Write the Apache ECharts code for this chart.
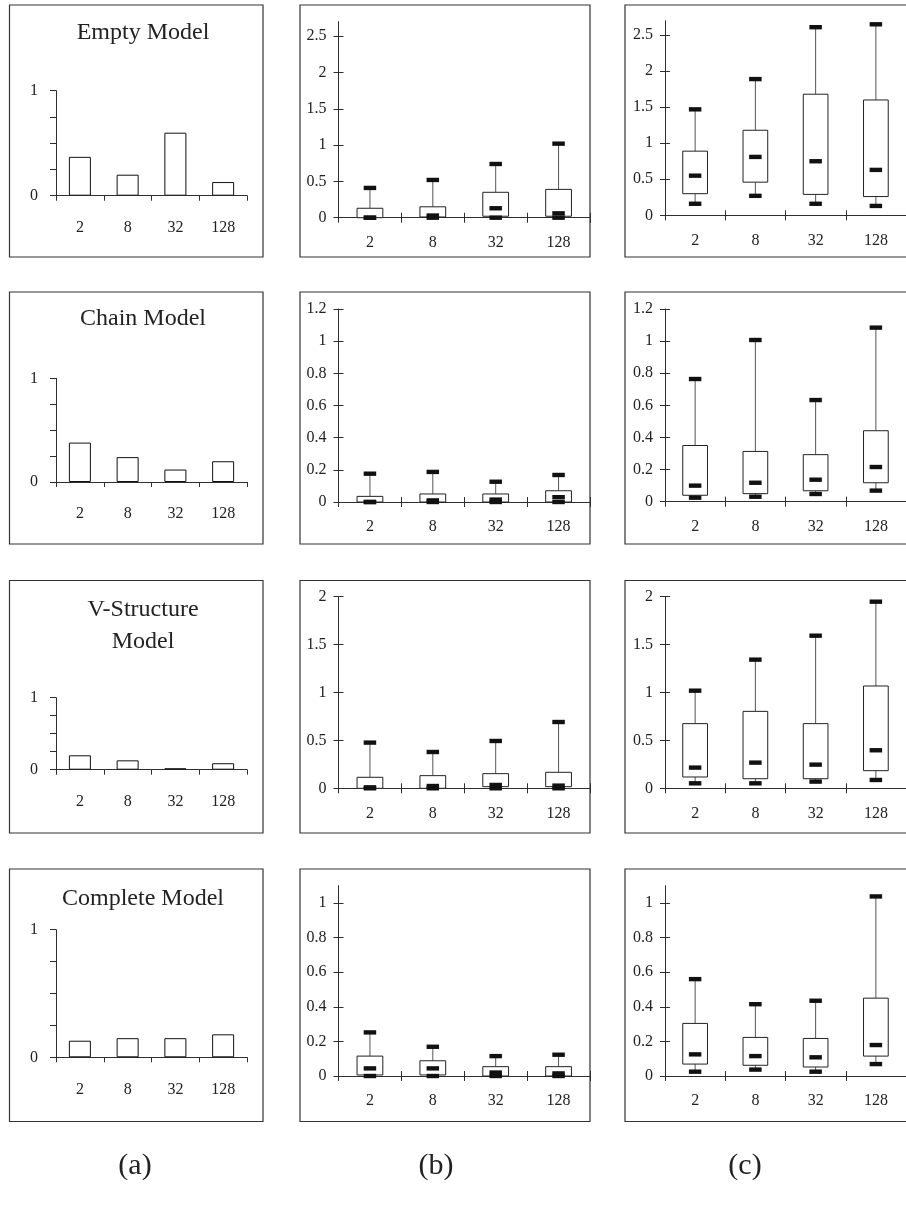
<!DOCTYPE html>
<html><head><meta charset="utf-8">
<script src="https://cdn.jsdelivr.net/npm/echarts@6/dist/echarts.min.js"></script>
<style>html,body{margin:0;padding:0;background:#fff}#c{width:906px;height:1215px}</style>
</head><body><div id="c"></div>
<script>
// ---------- data ----------
const categories = ['2', '8', '32', '128'];
const modelTitles = [['Empty Model'], ['Chain Model'], ['V-Structure', 'Model'], ['Complete Model']];
const panelLabels = ['(a)', '(b)', '(c)'];

// column (a): bar values
const barEmpty = [0.37, 0.20, 0.60, 0.13];
const barChain = [0.38, 0.24, 0.12, 0.20];
const barVStructure = [0.20, 0.13, 0.02, 0.09];
const barComplete = [0.13, 0.15, 0.15, 0.18];

// columns (b),(c): [min, q1, median, q3, max] per category
const emptyB = [[0, 0, 0, 0.13, 0.41], [0, 0.01, 0.03, 0.15, 0.52], [0, 0.02, 0.13, 0.35, 0.74], [0, 0.02, 0.06, 0.39, 1.02]];
const emptyC = [[0.16, 0.30, 0.55, 0.89, 1.47], [0.27, 0.46, 0.81, 1.18, 1.89], [0.16, 0.29, 0.75, 1.68, 2.61], [0.13, 0.26, 0.63, 1.60, 2.65]];
const chainB = [[0, 0, 0, 0.035, 0.176], [0, 0, 0.01, 0.05, 0.187], [0, 0, 0.015, 0.05, 0.126], [0, 0, 0.03, 0.07, 0.168]];
const chainC = [[0.025, 0.04, 0.10, 0.35, 0.764], [0.031, 0.05, 0.118, 0.313, 1.007], [0.048, 0.068, 0.137, 0.293, 0.633], [0.069, 0.118, 0.216, 0.442, 1.084]];
const vStructB = [[0, 0, 0.01, 0.115, 0.477], [0, 0, 0.024, 0.132, 0.379], [0, 0.017, 0.035, 0.153, 0.494], [0, 0.017, 0.028, 0.167, 0.692]];
const vStructC = [[0.052, 0.118, 0.216, 0.675, 1.019], [0.052, 0.10, 0.268, 0.803, 1.343], [0.07, 0.10, 0.247, 0.675, 1.593], [0.087, 0.184, 0.397, 1.068, 1.948]];
const completeB = [[0, 0.006, 0.044, 0.115, 0.252], [0, 0.006, 0.044, 0.088, 0.169], [0, 0, 0.02, 0.054, 0.115], [0, 0, 0.015, 0.054, 0.123]];
const completeC = [[0.025, 0.069, 0.125, 0.304, 0.56], [0.037, 0.062, 0.115, 0.223, 0.415], [0.025, 0.052, 0.108, 0.217, 0.435], [0.069, 0.115, 0.179, 0.45, 1.038]];

// axis ranges / tick labels
const yTicksA = [0, 0.25, 0.5, 0.75, 1];
const yMaxBC = [2.7, 1.2, 2, 1.1];
const yTicksRow1 = [0, 0.5, 1, 1.5, 2, 2.5];
const yTicksRow2 = [0, 0.2, 0.4, 0.6, 0.8, 1, 1.2];
const yTicksRow3 = [0, 0.5, 1, 1.5, 2];
const yTicksRow4 = [0, 0.2, 0.4, 0.6, 0.8, 1];

// ---------- layout ----------
const bars = [barEmpty, barChain, barVStructure, barComplete];
const boxesB = [emptyB, chainB, vStructB, completeB];
const boxesC = [emptyC, chainC, vStructC, completeC];
const yTicksBC = [yTicksRow1, yTicksRow2, yTicksRow3, yTicksRow4];

const FONT = '"Liberation Serif", "Times New Roman", serif';
const AX = '#2e2e2e';
const TXT = '#222';

const panelRows = [[5, 257], [292, 544], [580.5, 833], [869, 1121.5]];
const panelCols = [[9.5, 263], [300, 590], [625, 914]];
const gridA = [[90.7, 195.7], [378.3, 482], [697.7, 769.7], [929.7, 1057.3]];
const gridB = [[21.7, 217.7], [309, 502], [596.7, 788.3], [885.7, 1076]];
const gridC = [[20.7, 215.3], [309, 501.7], [596.7, 788.3], [885.7, 1076]];
const titlePos = [[32.3], [318.3], [610, 641.7], [898.3]];

const grids = [], xAxes = [], yAxes = [], series = [], extraX = [], extraY = [];

function renderBox(params, api) {
  const i = api.value(0);
  const lo = api.coord([i, api.value(1)]);
  const q1 = api.coord([i, api.value(2)]);
  const md = api.coord([i, api.value(3)]);
  const q3 = api.coord([i, api.value(4)]);
  const hi = api.coord([i, api.value(5)]);
  const bw = api.size([1, 0])[0] * 0.41;
  const cw = 12.5, ch = 4.4;
  const cx = lo[0];
  return {
    type: 'group',
    children: [
      { type: 'line', shape: { x1: cx, y1: hi[1], x2: cx, y2: q3[1] }, style: { stroke: '#555', lineWidth: 1 } },
      { type: 'line', shape: { x1: cx, y1: q1[1], x2: cx, y2: lo[1] }, style: { stroke: '#555', lineWidth: 1 } },
      { type: 'rect', shape: { x: cx - bw / 2, y: q3[1], width: bw, height: Math.max(q1[1] - q3[1], 0.5) }, style: { fill: '#fff', stroke: '#222', lineWidth: 1 } },
      { type: 'rect', shape: { x: cx - cw / 2, y: hi[1] - ch / 2, width: cw, height: ch }, style: { fill: '#111' } },
      { type: 'rect', shape: { x: cx - cw / 2, y: lo[1] - ch / 2, width: cw, height: ch }, style: { fill: '#111' } },
      { type: 'rect', shape: { x: cx - cw / 2, y: md[1] - ch / 2, width: cw, height: ch }, style: { fill: '#111' } }
    ]
  };
}

const labelStyle = { color: TXT, fontFamily: FONT, fontSize: 16 };

for (let r = 0; r < 4; r++) {
  // column (a)
  let gi = grids.length;
  grids.push({ left: 56, top: gridA[r][0], width: 191, height: gridA[r][1] - gridA[r][0] });
  xAxes.push({ gridIndex: gi, type: 'category', data: categories, position: 'bottom',
    axisLine: { lineStyle: { color: AX, width: 1 } },
    axisTick: { show: true, interval: 0, length: 5, lineStyle: { color: AX, width: 1 } },
    axisLabel: Object.assign({ margin: 24, interval: 0 }, labelStyle) });
  yAxes.push({ gridIndex: gi, type: 'value', min: 0, max: 1, position: 'left',
    axisLine: { show: true, lineStyle: { color: AX, width: 1 } },
    axisTick: { show: true, length: 6, lineStyle: { color: AX }, customValues: yTicksA },
    axisLabel: Object.assign({ margin: 18, customValues: [yTicksA[0], yTicksA[yTicksA.length - 1]] }, labelStyle),
    splitLine: { show: false } });
  series.push({ type: 'bar', xAxisIndex: gi, yAxisIndex: gi, data: bars[r], barWidth: 22,
    itemStyle: { color: '#fff', borderColor: '#111', borderWidth: 1 }, silent: true });

  // columns (b),(c)
  [[gridB, boxesB, 338.5], [gridC, boxesC, 665]].forEach(([g, boxes, left]) => {
    const idx = grids.length;
    grids.push({ left: left, top: g[r][0], width: 251.5, height: g[r][1] - g[r][0] });
    xAxes.push({ gridIndex: idx, type: 'category', data: categories, position: 'bottom',
      axisLine: { lineStyle: { color: AX, width: 1 } },
      axisTick: { show: true, interval: 0, length: 5, lineStyle: { color: AX, width: 1 } },
      axisLabel: Object.assign({ margin: 17, interval: 0 }, labelStyle) });
    yAxes.push({ gridIndex: idx, type: 'value', min: 0, max: yMaxBC[r], position: 'left',
      axisLine: { show: true, lineStyle: { color: AX, width: 1 } },
      axisTick: { show: true, length: 5, lineStyle: { color: AX }, customValues: yTicksBC[r] },
      axisLabel: Object.assign({ margin: 12, customValues: yTicksBC[r] }, labelStyle),
      splitLine: { show: false } });
    extraX.push({ gridIndex: idx, type: 'category', data: categories, position: 'bottom',
      axisLine: { show: false }, axisLabel: { show: false },
      axisTick: { show: true, interval: 0, inside: true, length: 5, lineStyle: { color: AX, width: 1 } } });
    extraY.push({ gridIndex: idx, type: 'value', min: 0, max: yMaxBC[r], position: 'left',
      axisLine: { show: false }, axisLabel: { show: false }, splitLine: { show: false },
      axisTick: { show: true, inside: true, length: 5, lineStyle: { color: AX }, customValues: yTicksBC[r] } });
    series.push({ type: 'custom', xAxisIndex: idx, yAxisIndex: idx, renderItem: renderBox, silent: true,
      encode: { x: 0, y: [1, 2, 3, 4, 5] },
      data: boxes[r].map((b, i) => [i, b[0], b[1], b[2], b[3], b[4]]) });
  });
}

// graphics: panel frames, titles, panel letters
const graphics = [];
panelRows.forEach(([t, b]) => {
  panelCols.forEach(([l, rr]) => {
    graphics.push({ type: 'rect', silent: true, z: 10,
      shape: { x: l, y: t, width: rr - l, height: b - t },
      style: { fill: 'none', stroke: '#333', lineWidth: 1.2 } });
  });
});
modelTitles.forEach((lines, r) => {
  lines.forEach((s, k) => {
    graphics.push({ type: 'text', silent: true,
      style: { text: s, x: 143, y: titlePos[r][k], textAlign: 'center', textVerticalAlign: 'middle',
        font: '24px ' + FONT, fill: TXT } });
  });
});
const letterX = [135, 436, 745];
panelLabels.forEach((s, k) => {
  graphics.push({ type: 'text', silent: true,
    style: { text: s, x: letterX[k], y: 1166, textAlign: 'center', textVerticalAlign: 'middle',
      font: '30px ' + FONT, fill: TXT } });
});

const chart = echarts.init(document.getElementById('c'), null, { renderer: 'canvas' });
chart.setOption({
  animation: false,
  backgroundColor: '#fff',
  grid: grids,
  xAxis: xAxes.concat(extraX),
  yAxis: yAxes.concat(extraY),
  series: series,
  graphic: graphics
});
</script>
</body></html>
